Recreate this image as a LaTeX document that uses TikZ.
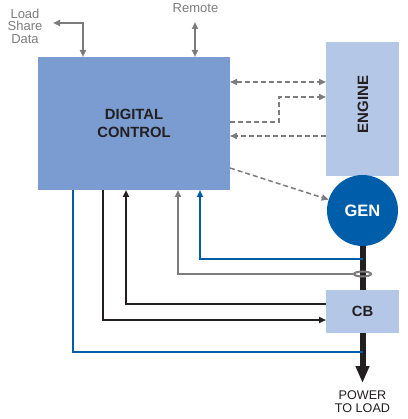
\documentclass[tikz,border=0pt]{standalone}
\usepackage{fontspec}
\setmainfont{Liberation Sans}
\usetikzlibrary{arrows.meta,shapes.geometric}
\definecolor{ctrlfill}{HTML}{7B9CD1}
\definecolor{lightfill}{HTML}{B5C7E6}
\definecolor{genblue}{HTML}{005DAA}
\definecolor{lgray}{HTML}{7C7C7C}
\definecolor{ink}{HTML}{231F20}
\begin{document}
\begin{tikzpicture}[x=1pt,y=-1pt,
  blk/.style={inner sep=0pt, outer sep=0pt, draw=none},
  tipa/.style={-{Triangle[length=7pt,width=6pt]}},
  tipb/.style={{Triangle[length=7pt,width=6pt]}-{Triangle[length=7pt,width=6pt]}},
  solidgray/.style={draw=lgray, line width=2pt},
  dashgray/.style={draw=lgray, line width=1.5pt, dash pattern=on 5pt off 3pt},
  blueline/.style={draw=genblue, line width=2pt},
  blackline/.style={draw=ink, line width=2pt},
  label/.style={text=lgray, font=\fontsize{13}{12.5}\selectfont, align=center, inner sep=0pt},
  boxtext/.style={text=ink, font=\bfseries\fontsize{14.8}{18}\selectfont, align=center}
]
\useasboundingbox (0,0) rectangle (407,419);

% main blocks
\node[blk, fill=ctrlfill, minimum width=192pt, minimum height=133pt, boxtext] (ctrl) at (134,123.5) {DIGITAL\\CONTROL};
\node[blk, fill=lightfill, minimum width=73pt, minimum height=134pt] (engine) at (362.5,109) {};
\node[boxtext, rotate=90, font=\bfseries\fontsize{15}{15}\selectfont] (enginetxt) at (363,104.5) {ENGINE};
\node[blk, fill=lightfill, minimum width=73pt, minimum height=43pt, boxtext] (cb) at (362.5,311.5) {CB};
\node[blk, circle, fill=genblue, minimum size=71pt, text=white, font=\bfseries\fontsize{16.5}{16.5}\selectfont] (gen) at (362.5,210.5) {GEN};

% labels
\node[label] (lsd) at (25,26) {Load\\Share\\Data};
\node[label, anchor=base] (remote) at (195.5,13) {Remote};
\node[anchor=north, inner sep=0pt, text=ink, align=center, font=\fontsize{12.6}{13.5}\selectfont] (pwr) at (362.5,390) {POWER\\TO LOAD};

% coordinates
\coordinate (lsl) at (53,23);
\coordinate (lsc) at (83,23);
\coordinate (rt) at (195,22);
\coordinate (ptip) at (362.5,383);
\coordinate (d2) at (279,97);
\coordinate (b1) at (200,259);
\coordinate (g1) at (178,274);
\coordinate (k1) at (126,304);
\coordinate (k2) at (103,320);
\coordinate (b2) at (73,352);

% top connectors
\draw[solidgray, tipb] (lsl) -| (ctrl.north -| lsc);
\draw[solidgray, tipb] (rt) -- (rt |- ctrl.north);

% dashed connectors
\draw[dashgray, tipb] (ctrl.east |- 0,82) -- (engine.west |- 0,82);
\draw[dashgray, tipa] (ctrl.east |- 0,122) -| (d2) -- (engine.west |- d2);
\draw[dashgray, tipa] (engine.west |- 0,136) -- (ctrl.east |- 0,136);
\draw[dashgray, tipa] (ctrl.east |- 0,168) -- (gen);

% power line
\draw[ink, line width=6pt] (gen.south) -- (cb.north);
\draw[ink, line width=6pt, -{Triangle[length=17pt,width=13pt]}] (cb.south) -- (ptip);

% feedback lines
\draw[blueline, tipa] (gen.south |- b1) -- (b1) -- (b1 |- ctrl.south);
\node[ellipse, draw=lgray, line width=2pt, minimum width=17pt, minimum height=5pt, inner sep=0pt] (ring) at (362.5,274) {};
\draw[solidgray, tipa] (ring.west) -- (g1) -- (g1 |- ctrl.south);
\draw[blackline, tipa] (cb.west |- k1) -- (k1) -- (k1 |- ctrl.south);
\draw[blackline, tipa] (k2 |- ctrl.south) -- (k2) -- (cb.west |- k2);
\draw[blueline] (b2 |- ctrl.south) -- (b2) -- (gen.south |- b2);
\end{tikzpicture}
\end{document}
